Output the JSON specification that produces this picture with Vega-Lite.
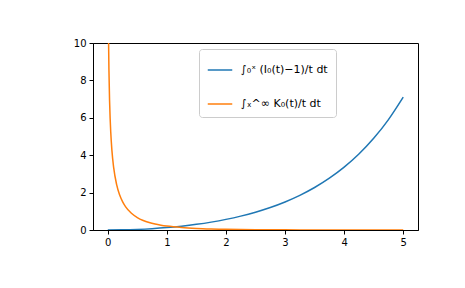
{
  "$schema": "https://vega.github.io/schema/vega-lite/v6.json",
  "width": 325,
  "height": 187,
  "autosize": {"type": "none"},
  "padding": {"left": 93, "top": 43, "right": 47, "bottom": 58},
  "background": "white",
  "config": {
    "view": {"stroke": "black", "strokeWidth": 1},
    "font": "DejaVu Sans",
    "axis": {
      "grid": false,
      "domainColor": "black",
      "tickColor": "black",
      "tickSize": 4,
      "labelColor": "black",
      "labelFontSize": 10,
      "labelFont": "DejaVu Sans",
      "labelPadding": 3,
      "title": null
    }
  },
  "data": {
    "values": [
      {"x": 0, "y": 0, "s": "a"},
      {"x": 0.25, "y": 0.00783, "s": "a"},
      {"x": 0.5, "y": 0.0315, "s": "a"},
      {"x": 0.75, "y": 0.07155, "s": "a"},
      {"x": 1.0, "y": 0.129, "s": "a"},
      {"x": 1.25, "y": 0.20512, "s": "a"},
      {"x": 1.5, "y": 0.3019, "s": "a"},
      {"x": 1.75, "y": 0.4216, "s": "a"},
      {"x": 2.0, "y": 0.5674, "s": "a"},
      {"x": 2.25, "y": 0.7429, "s": "a"},
      {"x": 2.5, "y": 0.9529, "s": "a"},
      {"x": 2.75, "y": 1.2029, "s": "a"},
      {"x": 3.0, "y": 1.5001, "s": "a"},
      {"x": 3.25, "y": 1.8529, "s": "a"},
      {"x": 3.5, "y": 2.2715, "s": "a"},
      {"x": 3.75, "y": 2.7687, "s": "a"},
      {"x": 4.0, "y": 3.3596, "s": "a"},
      {"x": 4.25, "y": 4.0633, "s": "a"},
      {"x": 4.5, "y": 4.9021, "s": "a"},
      {"x": 4.75, "y": 5.9048, "s": "a"},
      {"x": 5.0, "y": 7.1046, "s": "a"},
      {"x": 0.005, "y": 15.07, "s": "b"},
      {"x": 0.01, "y": 11.555, "s": "b"},
      {"x": 0.015, "y": 9.724, "s": "b"},
      {"x": 0.02, "y": 8.523, "s": "b"},
      {"x": 0.03, "y": 6.972, "s": "b"},
      {"x": 0.04, "y": 5.971, "s": "b"},
      {"x": 0.05, "y": 5.251, "s": "b"},
      {"x": 0.07, "y": 4.2595, "s": "b"},
      {"x": 0.1, "y": 3.331, "s": "b"},
      {"x": 0.15, "y": 2.4276, "s": "b"},
      {"x": 0.2, "y": 1.8836, "s": "b"},
      {"x": 0.25, "y": 1.516, "s": "b"},
      {"x": 0.3, "y": 1.2506, "s": "b"},
      {"x": 0.4, "y": 0.8931, "s": "b"},
      {"x": 0.5, "y": 0.6658, "s": "b"},
      {"x": 0.6, "y": 0.5107, "s": "b"},
      {"x": 0.7, "y": 0.3999, "s": "b"},
      {"x": 0.8, "y": 0.3182, "s": "b"},
      {"x": 0.9, "y": 0.2563, "s": "b"},
      {"x": 1.0, "y": 0.2085, "s": "b"},
      {"x": 1.25, "y": 0.1288, "s": "b"},
      {"x": 1.5, "y": 0.0823, "s": "b"},
      {"x": 1.75, "y": 0.0545, "s": "b"},
      {"x": 2.0, "y": 0.0361, "s": "b"},
      {"x": 2.5, "y": 0.017, "s": "b"},
      {"x": 3.0, "y": 0.0085, "s": "b"},
      {"x": 3.5, "y": 0.0042, "s": "b"},
      {"x": 4.0, "y": 0.0021, "s": "b"},
      {"x": 4.5, "y": 0.00107, "s": "b"},
      {"x": 5.0, "y": 0.00058, "s": "b"}
    ]
  },
  "mark": {"type": "line", "clip": true, "strokeWidth": 1.5, "interpolate": "monotone"},
  "encoding": {
    "x": {
      "field": "x",
      "type": "quantitative",
      "scale": {"domain": [-0.25, 5.25], "nice": false, "zero": false},
      "axis": {"values": [0, 1, 2, 3, 4, 5], "format": "d"}
    },
    "y": {
      "field": "y",
      "type": "quantitative",
      "scale": {"domain": [0, 10], "nice": false},
      "axis": {"values": [0, 2, 4, 6, 8, 10], "format": "d"}
    },
    "color": {
      "field": "s",
      "type": "nominal",
      "scale": {"domain": ["a", "b"], "range": ["#1f77b4", "#ff7f0e"]},
      "legend": {
        "title": null,
        "orient": "none",
        "legendX": 106,
        "legendY": 6,
        "labelExpr": "datum.value == 'a' ? '∫₀ˣ (I₀(t)−1)/t dt' : '∫ₓ^∞ K₀(t)/t dt'",
        "labelFont": "DejaVu Sans",
        "labelFontSize": 11,
        "labelColor": "black",
        "labelOffset": 8,
        "symbolType": "stroke",
        "symbolStrokeWidth": 1.5,
        "symbolSize": 600,
        "rowPadding": 16,
        "padding": 8,
        "strokeColor": "#cccccc",
        "cornerRadius": 3,
        "fillColor": "white"
      }
    }
  }
}
